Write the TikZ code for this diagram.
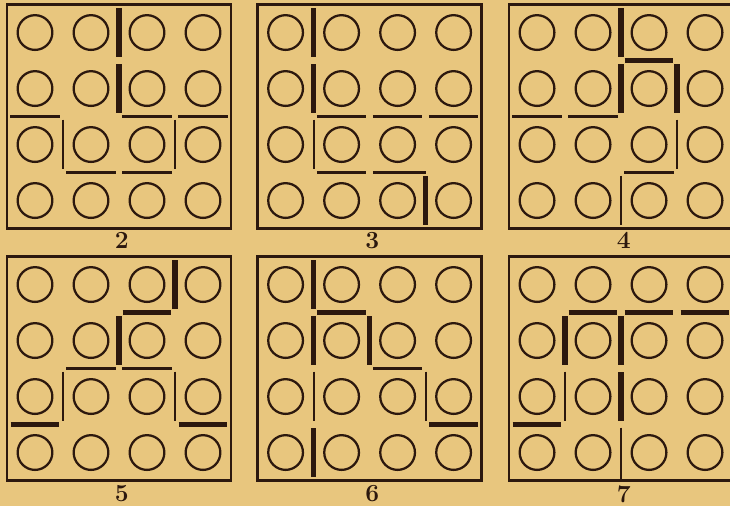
\documentclass[tikz,border=0pt]{standalone}
\definecolor{paper}{RGB}{232,198,126}
\definecolor{ink}{RGB}{44,24,14}
\newcommand{\pegboard}{%
	\draw[board] (0,0) rectangle (4,4);
	\foreach \col in {0,...,3}
		\foreach \row in {0,...,3}
			\draw[peg] (\col+0.5,\row+0.5) circle (0.31);
}

\begin{document}
\begin{tikzpicture}[
	x=1cm, y=1cm,
	% Styles for the boards, the pegs and the partitions
	board/.style={draw=ink, line width=1.4pt},
	peg/.style={draw=ink, line width=1.15pt},
	fence/.style={draw=ink, line width=1.1pt, shorten <=1.6pt, shorten >=1.6pt},
	wall/.style={draw=ink, line width=2.8pt, shorten <=1.8pt, shorten >=1.8pt},
	numtext/.style={font=\fontsize{12.5}{14}\selectfont\bfseries, text=ink, inner sep=0pt, anchor=north}
	]
	
	\useasboundingbox (0,0) rectangle (13.036,9.036);
	\clip (0,0) rectangle (13.036,9.036);
	\fill[paper] (0,0) rectangle (13.036,9.036);
	
	% ==========================================
	% 1. BOARD 2
	% ==========================================
	\begin{scope}[shift={(0.125,4.955)}]
		\pegboard
		\draw[wall] (2,4) -- (2,3);
		\draw[wall] (2,3) -- (2,2);
		\draw[fence] (0,2) -- (1,2);
		\draw[fence] (2,2) -- (3,2);
		\draw[fence] (3,2) -- (4,2);
		\draw[fence] (1,2) -- (1,1);
		\draw[fence] (3,2) -- (3,1);
		\draw[fence] (1,1) -- (2,1);
		\draw[fence] (2,1) -- (3,1);
		\node[numtext] (num2) at (2.05,-0.06) {2};
	\end{scope}
	
	% ==========================================
	% 2. BOARD 3
	% ==========================================
	\begin{scope}[shift={(4.6,4.955)}]
		\pegboard
		\draw[wall] (1,4) -- (1,3);
		\draw[wall] (1,3) -- (1,2);
		\draw[fence] (1,2) -- (2,2);
		\draw[fence] (2,2) -- (3,2);
		\draw[fence] (3,2) -- (4,2);
		\draw[fence] (1,2) -- (1,1);
		\draw[fence] (1,1) -- (2,1);
		\draw[fence, shorten >=0pt] (2,1) -- (3,1);
		\draw[wall] (3,1) -- (3,0);
		\node[numtext] (num3) at (2.05,-0.06) {3};
	\end{scope}
	
	% ==========================================
	% 3. BOARD 4
	% ==========================================
	\begin{scope}[shift={(9.09,4.955)}]
		\pegboard
		\draw[wall] (2,4) -- (2,3);
		\draw[wall] (2,3) -- (2,2);
		\draw[wall] (2,3) -- (3,3);
		\draw[wall] (3,3) -- (3,2);
		\draw[fence] (0,2) -- (1,2);
		\draw[fence] (1,2) -- (2,2);
		\draw[fence] (3,2) -- (3,1);
		\draw[fence] (2,1) -- (3,1);
		\draw[fence] (2,1) -- (2,0);
		\node[numtext] (num4) at (2.05,-0.06) {4};
	\end{scope}
	
	% ==========================================
	% 4. BOARD 5
	% ==========================================
	\begin{scope}[shift={(0.125,0.455)}]
		\pegboard
		\draw[wall] (3,4) -- (3,3);
		\draw[wall] (2,3) -- (3,3);
		\draw[wall] (2,3) -- (2,2);
		\draw[fence] (1,2) -- (2,2);
		\draw[fence] (2,2) -- (3,2);
		\draw[fence] (1,2) -- (1,1);
		\draw[fence] (3,2) -- (3,1);
		\draw[wall] (0,1) -- (1,1);
		\draw[wall] (3,1) -- (4,1);
		\node[numtext] (num5) at (2.05,-0.08) {5};
	\end{scope}
	
	% ==========================================
	% 5. BOARD 6
	% ==========================================
	\begin{scope}[shift={(4.6,0.455)}]
		\pegboard
		\draw[wall] (1,4) -- (1,3);
		\draw[wall] (1,3) -- (1,2);
		\draw[wall] (1,3) -- (2,3);
		\draw[wall] (2,3) -- (2,2);
		\draw[fence] (2,2) -- (3,2);
		\draw[fence] (1,2) -- (1,1);
		\draw[fence] (3,2) -- (3,1);
		\draw[wall] (3,1) -- (4,1);
		\draw[wall] (1,1) -- (1,0);
		\node[numtext] (num6) at (2.05,-0.08) {6};
	\end{scope}
	
	% ==========================================
	% 6. BOARD 7
	% ==========================================
	\begin{scope}[shift={(9.09,0.455)}]
		\pegboard
		\draw[wall] (1,3) -- (2,3);
		\draw[wall] (2,3) -- (3,3);
		\draw[wall] (3,3) -- (4,3);
		\draw[wall] (1,3) -- (1,2);
		\draw[wall] (2,3) -- (2,2);
		\draw[wall] (2,2) -- (2,1);
		\draw[fence] (1,2) -- (1,1);
		\draw[wall] (0,1) -- (1,1);
		\draw[fence, shorten >=0pt] (2,1) -- (2,0);
		\node[numtext] (num7) at (2.05,-0.08) {7};
	\end{scope}
	
\end{tikzpicture}
\end{document}
